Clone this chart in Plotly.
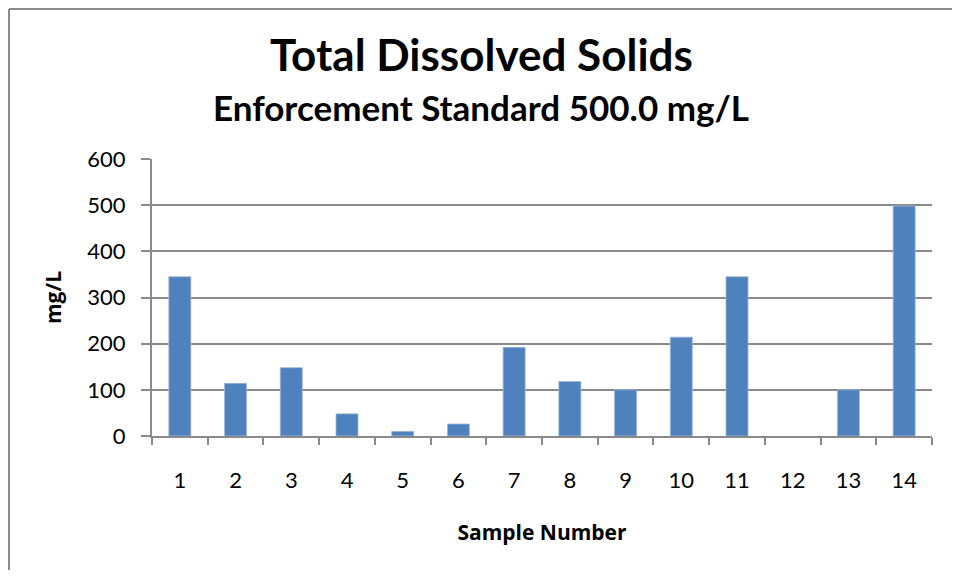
import plotly.graph_objects as go

samples = [str(i) for i in range(1, 15)]
tds_mg_l = [345, 114, 148, 48, 10, 26, 192, 118, 100, 214, 345, None, 100, 498]

title_text = "Total Dissolved Solids"
subtitle_text = "Enforcement Standard 500.0 mg/L"
x_title = "Sample Number"
y_title = "mg/L"
y_ticks = [0, 100, 200, 300, 400, 500, 600]

# page body has an 8px margin: figure coords = screen coords - 8
OFF = 8
W, H = 961 - 2 * OFF, 579 - 2 * OFF
L, T = 152 - OFF, 159 - OFF
R, B = W - (932 - OFF), H - (436 - OFF)
pw, ph = W - L - R, H - T - B

def px(x):  # screen x -> paper
    return (x - OFF - L) / pw

def py(y):  # screen y -> paper
    return (H - B - (y - OFF)) / ph

grid = "#8a8a8a"
title_font = "Lato, sans-serif"
tick_font = "Lato, sans-serif"
axis_font = "Open Sans, sans-serif"

fig = go.Figure(go.Bar(
    x=samples, y=tds_mg_l,
    marker=dict(color="#4F81BD", line=dict(color="#9db8dc", width=0.8)),
))

border = dict(color="#8c8c8c", width=2)
right_edge = OFF + W - 1
bottom_edge = OFF + H - 1

fig.update_layout(
    width=W, height=H,
    margin=dict(l=L, r=R, t=T, b=B),
    paper_bgcolor="white", plot_bgcolor="white",
    bargap=0.605,
    showlegend=False,
    font=dict(family=tick_font, color="black"),
    xaxis=dict(
        type="category",
        showgrid=False,
        showline=True, linecolor=grid, linewidth=2,
        ticks="outside", tickson="boundaries", ticklen=7, tickwidth=2, tickcolor=grid,
        tickfont=dict(size=22, family=tick_font),
        ticklabelstandoff=24,
        title=dict(text="<b>" + x_title + "</b>", font=dict(size=21, family=axis_font), standoff=33),
    ),
    yaxis=dict(
        range=[0, 600], tickvals=y_ticks,
        showgrid=True, gridcolor=grid, gridwidth=1.5,
        showline=True, linecolor=grid, linewidth=2,
        ticks="outside", ticklen=9, tickwidth=2, tickcolor=grid,
        tickfont=dict(size=22, family=tick_font),
        ticklabelstandoff=11,
        zeroline=False,
        title=dict(text="<b>" + y_title + "</b>", font=dict(size=21, family=axis_font), standoff=20),
    ),
    annotations=[
        dict(text="<b>" + title_text + "</b>", x=px(481), y=py(54), xref="paper", yref="paper",
             xanchor="center", yanchor="middle", showarrow=False,
             font=dict(size=44, family=title_font, color="black")),
        dict(text="<b>" + subtitle_text + "</b>", x=px(481), y=py(107), xref="paper", yref="paper",
             xanchor="center", yanchor="middle", showarrow=False,
             font=dict(size=35, family=title_font, color="black")),
    ],
    shapes=[
        dict(type="line", xref="paper", yref="paper",
             x0=px(OFF + 1), x1=px(right_edge), y0=py(OFF + 1), y1=py(OFF + 1), line=border),
        dict(type="line", xref="paper", yref="paper",
             x0=px(OFF + 1), x1=px(OFF + 1), y0=py(OFF + 1), y1=py(bottom_edge), line=border),
    ],
)

fig.write_html("out.html")
